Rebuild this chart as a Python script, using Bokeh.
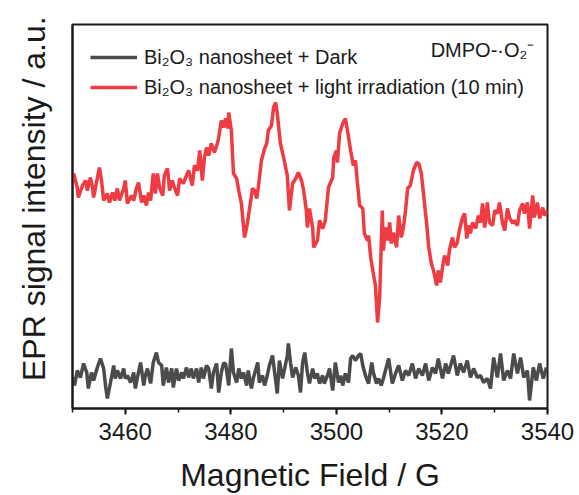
from bokeh.plotting import figure
from bokeh.models import Legend, LegendItem, Label, SingleIntervalTicker, Range1d, FixedTicker
from bokeh.embed import file_html
from bokeh.resources import INLINE

# ---- data (magnetic field in G, EPR intensity in a.u.) ----
field_dark = [3450.0, 3450.4, 3450.9, 3451.5, 3452.1, 3452.7, 3453.0, 3453.6, 3454.0, 3454.7,
              3455.3, 3455.9, 3456.3, 3456.6, 3457.2, 3457.8, 3458.1, 3458.5, 3459.1, 3459.7,
              3460.0, 3460.4, 3461.0, 3461.6, 3461.9, 3462.3, 3462.9, 3463.5, 3463.8, 3464.2,
              3464.8, 3465.3, 3465.9, 3466.3, 3466.9, 3467.2, 3467.8, 3468.2, 3468.8, 3469.1,
              3469.7, 3470.1, 3470.7, 3471.0, 3471.6, 3472.0, 3472.5, 3472.9, 3473.5, 3473.9,
              3474.4, 3474.8, 3475.4, 3475.8, 3476.3, 3476.7, 3477.3, 3477.7, 3478.2, 3478.6,
              3479.0, 3479.6, 3480.1, 3480.5, 3481.1, 3481.5, 3482.0, 3482.4, 3483.0, 3483.3,
              3483.9, 3484.3, 3485.1, 3485.4, 3486.0, 3486.4, 3486.9, 3487.3, 3487.9, 3488.3,
              3488.8, 3489.2, 3489.8, 3490.2, 3490.7, 3490.9, 3491.3, 3491.7, 3492.3, 3492.8,
              3493.2, 3493.6, 3494.0, 3494.5, 3494.9, 3495.5, 3495.9, 3496.4, 3496.8, 3497.4,
              3497.7, 3498.3, 3498.7, 3499.3, 3499.8, 3500.4, 3500.8, 3501.2, 3501.7, 3502.3,
              3502.7, 3503.1, 3503.6, 3504.2, 3504.6, 3505.0, 3505.5, 3506.1, 3506.7, 3507.0,
              3507.6, 3508.0, 3508.5, 3508.9, 3509.3, 3509.9, 3510.6, 3511.2, 3511.8, 3512.5,
              3513.1, 3513.7, 3514.4, 3515.0, 3515.6, 3516.3, 3516.9, 3517.5, 3518.2, 3518.8,
              3519.3, 3520.1, 3520.7, 3521.2, 3522.2, 3522.9, 3523.5, 3524.1, 3524.8, 3525.4,
              3526.0, 3526.7, 3527.3, 3527.9, 3528.6, 3529.2, 3529.8, 3530.5, 3531.1, 3531.7,
              3532.4, 3533.0, 3533.6, 3534.3, 3534.9, 3535.5, 3536.2, 3536.6, 3537.3, 3537.9,
              3538.5, 3539.2, 3539.8]
int_dark = [31, 23, 38, 31, 45, 36, 20, 36, 28, 41,
            50, 40, 21, 10, 26, 43, 30, 38, 30, 40,
            30, 33, 26, 36, 20, 31, 46, 23, 33, 40,
            25, 46, 56, 46, 43, 23, 41, 26, 40, 21,
            40, 28, 36, 30, 41, 31, 40, 30, 40, 26,
            41, 30, 43, 40, 20, 36, 45, 16, 36, 45,
            45, 23, 60, 36, 26, 40, 30, 36, 23, 38,
            20, 31, 46, 26, 33, 23, 33, 43, 53, 36,
            15, 48, 30, 40, 53, 65, 46, 31, 41, 33,
            16, 46, 56, 36, 25, 40, 30, 35, 25, 33,
            25, 33, 40, 18, 46, 26, 33, 23, 35, 26,
            50, 53, 48, 53, 55, 43, 33, 25, 46, 36,
            25, 30, 23, 30, 38, 50, 25, 35, 43, 28,
            38, 33, 45, 30, 40, 33, 45, 28, 41, 35,
            50, 30, 45, 35, 53, 33, 45, 36, 48, 31,
            40, 31, 33, 26, 30, 20, 51, 31, 55, 28,
            38, 30, 55, 35, 51, 31, 38, 8, 41, 28,
            45, 30, 41]

field_light = [3450.2, 3450.9, 3451.1, 3451.9, 3452.5, 3452.8, 3453.4, 3453.8, 3454.0, 3454.5,
               3455.1, 3455.5, 3455.9, 3456.6, 3457.0, 3457.6, 3458.0, 3458.5, 3458.9, 3459.7,
               3460.0, 3460.4, 3461.2, 3461.6, 3462.1, 3462.5, 3463.1, 3463.5, 3464.0, 3464.4,
               3464.8, 3465.3, 3465.7, 3466.1, 3466.5, 3467.1, 3467.4, 3468.0, 3468.4, 3468.9,
               3469.3, 3469.9, 3470.3, 3471.0, 3471.6, 3472.0, 3472.7, 3473.1, 3473.7, 3474.1,
               3474.6, 3475.0, 3475.4, 3475.8, 3476.3, 3476.9, 3477.5, 3477.7, 3478.2, 3478.6,
               3479.0, 3479.4, 3479.6, 3480.1, 3480.5, 3481.1, 3481.5, 3482.0, 3482.6, 3483.0,
               3483.5, 3484.1, 3484.5, 3484.9, 3485.2, 3485.8, 3486.4, 3486.8, 3487.1, 3487.7,
               3488.1, 3488.5, 3488.8, 3489.4, 3490.0, 3490.7, 3491.1, 3491.7, 3492.3, 3492.8,
               3493.4, 3493.8, 3494.3, 3494.5, 3494.9, 3495.5, 3495.7, 3496.4, 3496.8, 3497.4,
               3497.9, 3498.5, 3499.3, 3499.5, 3500.0, 3500.2, 3500.6, 3501.2, 3501.7, 3502.1,
               3502.7, 3503.2, 3503.6, 3504.0, 3504.4, 3505.0, 3505.3, 3505.9, 3506.1, 3506.5,
               3507.0, 3507.4, 3507.8, 3508.2, 3508.7, 3508.9, 3509.3, 3509.7, 3510.1, 3510.4,
               3510.8, 3511.4, 3511.8, 3512.3, 3512.7, 3513.1, 3513.5, 3514.0, 3514.6, 3515.2,
               3515.6, 3516.1, 3516.5, 3517.1, 3517.5, 3518.0, 3518.4, 3519.0, 3519.3, 3519.7,
               3520.1, 3520.5, 3521.1, 3521.4, 3522.0, 3522.4, 3522.9, 3523.3, 3523.9, 3524.3,
               3524.7, 3525.0, 3525.4, 3525.8, 3526.4, 3526.9, 3527.3, 3527.7, 3528.1, 3528.6,
               3529.0, 3529.6, 3530.0, 3530.5, 3530.9, 3531.5, 3531.9, 3532.4, 3532.8, 3533.4,
               3533.7, 3534.3, 3534.7, 3535.3, 3535.6, 3536.2, 3536.6, 3537.2, 3537.5, 3538.1,
               3538.5, 3539.1, 3539.4, 3540.0]
int_light = [235, 221, 211, 223, 228, 218, 231, 221, 211, 225,
             241, 228, 208, 215, 206, 216, 208, 220, 208, 220,
             228, 205, 213, 208, 220, 226, 206, 213, 203, 216,
             208, 235, 215, 235, 221, 213, 233, 240, 218, 228,
             221, 213, 230, 225, 233, 238, 223, 243, 238, 258,
             228, 251, 261, 253, 265, 256, 266, 271, 288, 281,
             290, 280, 296, 278, 235, 230, 218, 205, 171, 181,
             198, 220, 218, 210, 221, 248, 260, 265, 278, 283,
             301, 306, 295, 265, 251, 233, 198, 225, 230, 236,
             228, 218, 198, 181, 200, 181, 161, 168, 188, 180,
             188, 221, 231, 251, 258, 246, 275, 285, 290, 278,
             258, 243, 248, 225, 203, 200, 175, 168, 173, 151,
             135, 123, 86, 111, 198, 158, 181, 168, 186, 165,
             176, 161, 193, 171, 181, 198, 220, 223, 238, 246,
             245, 235, 215, 185, 161, 145, 138, 123, 138, 126,
             141, 153, 143, 158, 171, 161, 166, 178, 191, 195,
             170, 183, 175, 186, 180, 193, 186, 205, 181, 206,
             186, 183, 198, 195, 206, 185, 178, 200, 191, 185,
             188, 183, 198, 205, 195, 206, 180, 213, 191, 206,
             190, 201, 193, 198]

label_dark = "Bi₂O₃ nanosheet + Dark"
label_light = "Bi₂O₃ nanosheet + light irradiation (10 min)"
annotation_text = "DMPO-·O₂⁻"
x_title = "Magnetic Field / G"
y_title = "EPR signal intensity / a.u."

FONT = "Liberation Sans"
INK = "#1a1a1a"

p = figure(width=579, height=495, output_backend="svg", toolbar_location=None,
           x_range=Range1d(3450, 3540), y_range=Range1d(0, 384),
           min_border_left=72, min_border_right=32, min_border_top=24, min_border_bottom=87)
p.background_fill_color = "white"
p.border_fill_color = "white"
p.grid.visible = False
p.outline_line_color = INK
p.outline_line_width = 2

r_dark = p.line(field_dark, int_dark, line_color="#4B4B4B", line_width=3.5)
r_light = p.line(field_light, int_light, line_color="#EF3B42", line_width=3.5)

xa = p.xaxis[0]
xa.ticker = SingleIntervalTicker(interval=20, num_minor_ticks=2)
xa.axis_line_color = INK
xa.axis_line_width = 2
xa.major_tick_line_color = INK
xa.major_tick_line_width = 2
xa.major_tick_out = 6
xa.major_tick_in = 0
xa.minor_tick_line_color = INK
xa.minor_tick_line_width = 1.5
xa.minor_tick_out = 4
xa.minor_tick_in = 0
xa.major_label_text_font = FONT
xa.major_label_text_font_size = "24px"
xa.major_label_text_color = INK
xa.major_label_standoff = 8
xa.axis_label = x_title
xa.axis_label_text_font = FONT
xa.axis_label_text_font_size = "32px"
xa.axis_label_text_font_style = "normal"
xa.axis_label_text_color = INK
xa.axis_label_standoff = 14

ya = p.yaxis[0]
ya.ticker = FixedTicker(ticks=[])
ya.major_tick_line_color = None
ya.minor_tick_line_color = None
ya.major_label_text_font_size = "0px"
ya.axis_line_color = INK
ya.axis_line_width = 2
# leading figure spaces lift the title slightly above the frame centre, as in the original
ya.axis_label = "\u2007\u2007" + y_title
ya.axis_label_text_font = FONT
ya.axis_label_text_font_size = "32px"
ya.axis_label_text_font_style = "normal"
ya.axis_label_text_color = INK
ya.axis_label_standoff = 21

legend = Legend(items=[LegendItem(label=label_dark, renderers=[r_dark]),
                       LegendItem(label=label_light, renderers=[r_light])],
                location="top_left", margin=18, padding=10, spacing=-2,
                glyph_width=47, glyph_height=30, label_height=30, label_standoff=7,
                label_text_font=FONT, label_text_font_size="20px", label_text_color=INK,
                border_line_color=None, background_fill_alpha=0)
p.add_layout(legend)

p.add_layout(Label(x=3537.5, y=359, text=annotation_text, text_align="right",
                   text_baseline="middle", text_font=FONT, text_font_size="20px",
                   text_color=INK))

open("out.html", "w").write(file_html(p, INLINE))
